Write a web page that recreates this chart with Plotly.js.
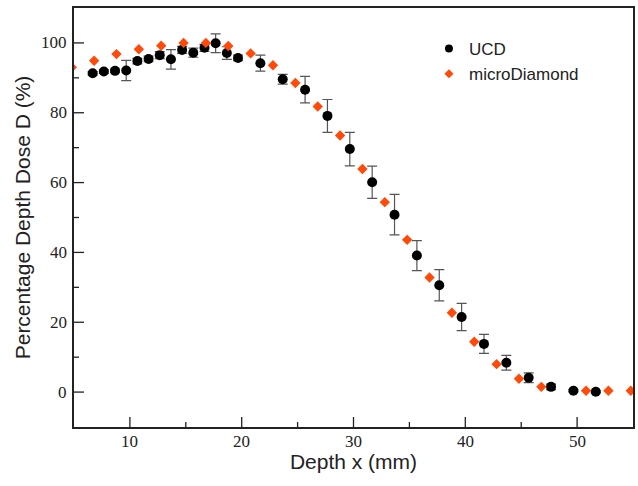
<!DOCTYPE html>
<html>
<head>
<meta charset="utf-8">
<script src="https://cdn.plot.ly/plotly-3.0.1.min.js"></script>
<style>html,body{margin:0;padding:0;background:#fff;}#chart{width:638px;height:486px;}</style>
</head>
<body>
<div id="chart"></div>
<script>
// UCD measurements
const ucdDepth = [6.67,7.67,8.67,9.67,10.67,11.67,12.67,13.67,14.67,15.67,16.67,17.67,18.67,19.67,
  21.67,23.67,25.67,27.67,29.67,31.67,33.67,35.67,37.67,39.67,41.67,43.67,45.67,47.67,49.67,51.67];
const ucdDose = [91.3,91.8,92.0,92.1,94.8,95.4,96.5,95.3,98.0,97.2,98.6,99.9,97.1,95.7,
  94.2,89.6,86.6,79.1,69.6,60.1,50.8,39.1,30.6,21.5,13.8,8.4,4.1,1.5,0.4,0.1];
const ucdErr = [0.5,0.5,0.5,2.9,0.8,0.8,1.0,2.8,1.0,1.3,1.0,2.7,1.8,0.8,
  2.3,1.4,3.8,4.7,4.8,4.6,5.8,4.3,4.5,3.9,2.7,2.1,1.4,0.8,0.3,0.3];

// microDiamond measurements
const mdDepth = [4.8,6.8,8.8,10.8,12.8,14.8,16.8,18.8,20.8,22.8,24.8,26.8,28.8,30.8,32.8,34.8,
  36.8,38.8,40.8,42.8,44.8,46.8,50.8,52.8,54.8];
const mdDose = [93.0,94.9,96.8,98.2,99.2,100.0,100.0,99.1,97.0,93.6,88.5,81.8,73.5,63.9,54.4,43.6,
  32.8,22.7,14.4,8.0,3.8,1.5,0.4,0.4,0.4];

// axes
const seriesNames = ['UCD', 'microDiamond'];
const xTitle = 'Depth x (mm)';
const yTitle = 'Percentage Depth Dose D (%)';
const xRange = [5, 55];
const yRange = [-10, 110];
const xTicks = [10, 20, 30, 40, 50];
const xMinorTicks = [15, 25, 35, 45];
const yTicks = [0, 20, 40, 60, 80, 100];
const yMinorTicks = [10, 30, 50, 70, 90];

const SERIF = '"Liberation Serif", serif';
const SANS = '"Liberation Sans", sans-serif';
const INK = '#222222';

const W = 638, H = 486;
const M = {l: 74, r: 5, t: 8, b: 59};
const plotW = W - M.l - M.r, plotH = H - M.t - M.b;
const MAJOR = 10, MINOR = 5;

const traces = [
  {
    x: ucdDepth, y: ucdDose, name: seriesNames[0], type: 'scatter', mode: 'markers', showlegend: false,
    marker: {symbol: 'circle', size: 10, color: '#000000'},
    error_y: {type: 'data', array: ucdErr, visible: true, color: '#555555', thickness: 1.2, width: 5}
  },
  {
    x: mdDepth, y: mdDose, name: seriesNames[1], type: 'scatter', mode: 'markers', showlegend: false,
    marker: {symbol: 'diamond', size: 8, color: '#FF4A0A'}
  },
  // legend entries (smaller symbols, as in the reference)
  {x: [null], y: [null], name: seriesNames[0], type: 'scatter', mode: 'markers',
    marker: {symbol: 'circle', size: 8, color: '#000000'}},
  {x: [null], y: [null], name: seriesNames[1], type: 'scatter', mode: 'markers',
    marker: {symbol: 'diamond', size: 7, color: '#FF4A0A'}}
];

// inward tick marks, positioned on the axes' own scales
const tickLine = {color: INK, width: 1.3};
const xTickShape = (v, len) => ({type: 'line', xref: 'x', yref: 'paper', x0: v, x1: v, y0: 0, y1: len / plotH, line: tickLine, layer: 'above'});
const yTickShape = (v, len) => ({type: 'line', xref: 'paper', yref: 'y', x0: 0, x1: len / plotW, y0: v, y1: v, line: tickLine, layer: 'above'});
const shapes = [].concat(
  xTicks.map(v => xTickShape(v, MAJOR)),
  xMinorTicks.map(v => xTickShape(v, MINOR)),
  yTicks.map(v => yTickShape(v, MAJOR)),
  yMinorTicks.map(v => yTickShape(v, MINOR))
);

// tick labels
const tickFont = {family: SERIF, size: 17, color: INK};
const annotations = [].concat(
  xTicks.map(v => ({xref: 'x', yref: 'paper', x: v, y: 0, text: String(v), showarrow: false,
    xanchor: 'center', yanchor: 'top', yshift: -3, font: tickFont})),
  yTicks.map(v => ({xref: 'paper', yref: 'y', x: 0, y: v, text: String(v), showarrow: false,
    xanchor: 'right', yanchor: 'middle', xshift: -5, font: tickFont}))
);

const layout = {
  width: W, height: H,
  margin: M,
  paper_bgcolor: '#ffffff', plot_bgcolor: '#ffffff',
  showlegend: true,
  legend: {x: 0.635, y: 0.945, xanchor: 'left', yanchor: 'top', itemwidth: 30,
    font: {family: SANS, size: 17, color: INK}, bgcolor: 'rgba(0,0,0,0)'},
  xaxis: {
    range: xRange, showgrid: false, zeroline: false, showline: true, mirror: true,
    linecolor: INK, linewidth: 1.5, ticks: '', showticklabels: false,
    title: {text: xTitle, standoff: 27, font: {family: SANS, size: 21, color: INK}}
  },
  yaxis: {
    range: yRange, showgrid: false, zeroline: false, showline: true, mirror: true,
    linecolor: INK, linewidth: 1.5, ticks: '', showticklabels: false,
    title: {text: yTitle, standoff: 36, font: {family: SANS, size: 21, color: INK}}
  },
  shapes: shapes,
  annotations: annotations
};

Plotly.newPlot('chart', traces, layout, {displayModeBar: false});
</script>
</body>
</html>
